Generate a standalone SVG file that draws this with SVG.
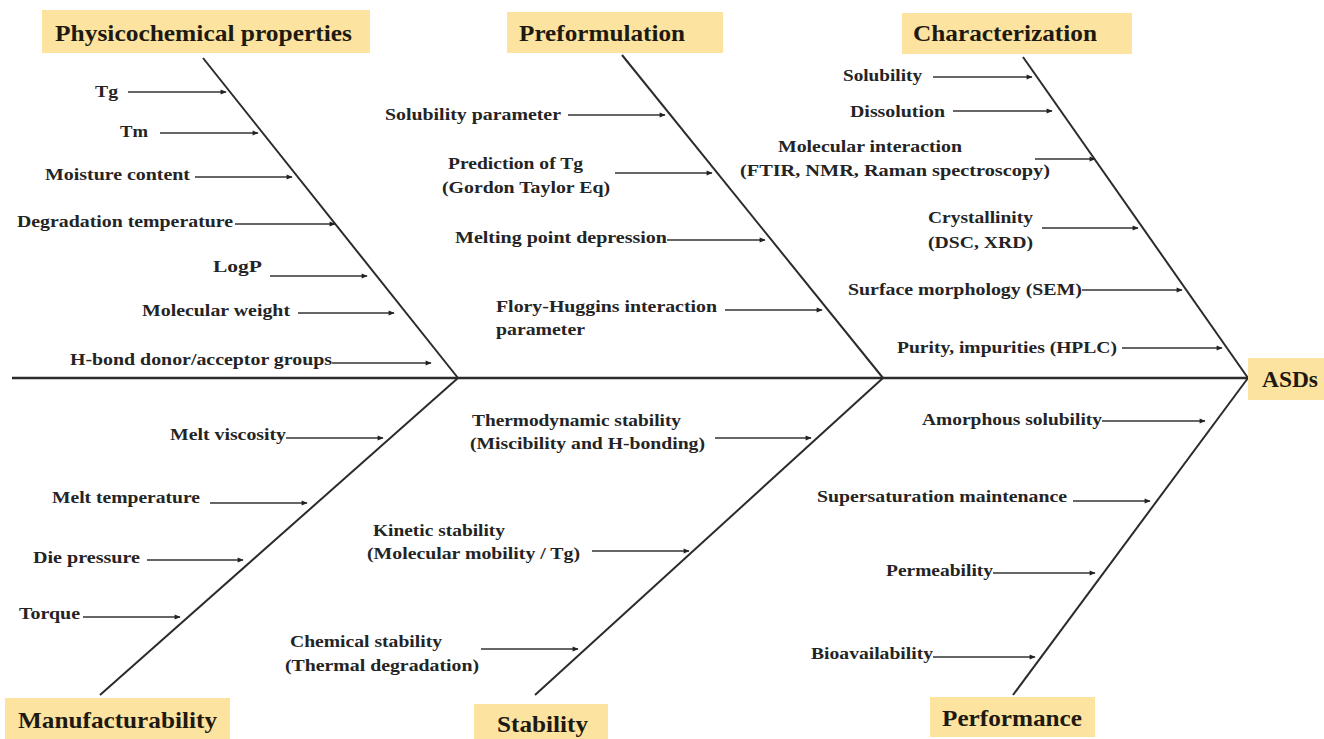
<svg xmlns="http://www.w3.org/2000/svg" width="1324" height="739" viewBox="0 0 1324 739">
<style>
.bg{fill:#ffffff}
.hdr{fill:#FCE4A0}
.ht{font-family:"Liberation Serif","Times New Roman",serif;font-weight:bold;font-size:23.5px;fill:#1e1a12}
.t{font-family:"Liberation Serif","Times New Roman",serif;font-weight:bold;font-size:17.5px;fill:#242424}
.bone{stroke:#2b2b2b;stroke-width:2;fill:none}
.spine{stroke:#2b2b2b;stroke-width:2.6;fill:none}
.arr{stroke:#333;stroke-width:1.3;fill:none;marker-end:url(#ah)}
</style>
<defs>
<marker id="ah" viewBox="0 0 10 10" refX="9" refY="5" markerWidth="7" markerHeight="6" markerUnits="userSpaceOnUse" orient="auto">
<path d="M0,1 L10,5 L0,9 Z" fill="#222"/>
</marker>
</defs>
<rect class="bg" x="0" y="0" width="1324" height="739"/>

<g id="connectors">
<line class="spine" x1="12" y1="378" x2="1247" y2="378"/>
<line class="bone" x1="203" y1="58" x2="458" y2="378"/>
<line class="bone" x1="458" y1="378" x2="100" y2="695"/>
<line class="bone" x1="622" y1="55" x2="883" y2="378"/>
<line class="bone" x1="883" y1="378" x2="535" y2="695"/>
<line class="bone" x1="1023" y1="57" x2="1248" y2="378"/>
<line class="bone" x1="1248" y1="378" x2="1013" y2="695"/>
<!-- physicochemical -->
<line class="arr" x1="128" y1="92" x2="226" y2="92"/>
<line class="arr" x1="160" y1="133" x2="258" y2="133"/>
<line class="arr" x1="195" y1="177" x2="292" y2="177"/>
<line class="arr" x1="235" y1="224" x2="335" y2="224"/>
<line class="arr" x1="270" y1="276" x2="367" y2="276"/>
<line class="arr" x1="298" y1="313" x2="394" y2="313"/>
<line class="arr" x1="332" y1="363" x2="431" y2="363"/>
<!-- preformulation -->
<line class="arr" x1="568" y1="115" x2="665" y2="115"/>
<line class="arr" x1="615" y1="173" x2="712" y2="173"/>
<line class="arr" x1="667" y1="240" x2="765" y2="240"/>
<line class="arr" x1="725" y1="310" x2="822" y2="310"/>
<!-- characterization -->
<line class="arr" x1="933" y1="77" x2="1032" y2="77"/>
<line class="arr" x1="953" y1="111" x2="1052" y2="111"/>
<line class="arr" x1="1035" y1="159" x2="1095" y2="159"/>
<line class="arr" x1="1042" y1="228" x2="1138" y2="228"/>
<line class="arr" x1="1082" y1="290" x2="1182" y2="290"/>
<line class="arr" x1="1122" y1="348" x2="1222" y2="348"/>
<!-- manufacturability -->
<line class="arr" x1="286" y1="438" x2="383" y2="438"/>
<line class="arr" x1="210" y1="503" x2="307" y2="503"/>
<line class="arr" x1="147" y1="560" x2="243" y2="560"/>
<line class="arr" x1="83" y1="617" x2="180" y2="617"/>
<!-- stability -->
<line class="arr" x1="715" y1="438" x2="811" y2="438"/>
<line class="arr" x1="592" y1="551" x2="689" y2="551"/>
<line class="arr" x1="481" y1="649" x2="578" y2="649"/>
<!-- performance -->
<line class="arr" x1="1102" y1="421" x2="1205" y2="421"/>
<line class="arr" x1="1073" y1="501" x2="1150" y2="501"/>
<line class="arr" x1="993" y1="573" x2="1095" y2="573"/>
<line class="arr" x1="933" y1="657" x2="1035" y2="657"/>
</g>

<g id="physicochemical">
<rect class="hdr" x="42" y="10" width="328" height="43"/>
<text class="ht" x="55" y="41" textLength="297" lengthAdjust="spacingAndGlyphs">Physicochemical properties</text>
<g id="pc-items">
<text class="t" x="95" y="97" textLength="23" lengthAdjust="spacingAndGlyphs">Tg</text>
<text class="t" x="120" y="137" textLength="28" lengthAdjust="spacingAndGlyphs">Tm</text>
<text class="t" x="45" y="180" textLength="145" lengthAdjust="spacingAndGlyphs">Moisture content</text>
<text class="t" x="17" y="227" textLength="216" lengthAdjust="spacingAndGlyphs">Degradation temperature</text>
<text class="t" x="213" y="272" textLength="49" lengthAdjust="spacingAndGlyphs">LogP</text>
<text class="t" x="142" y="316" textLength="148" lengthAdjust="spacingAndGlyphs">Molecular weight</text>
<text class="t" x="70" y="365" textLength="262" lengthAdjust="spacingAndGlyphs">H-bond donor/acceptor groups</text>
</g>
</g>

<g id="preformulation">
<rect class="hdr" x="507" y="12" width="216" height="41"/>
<text class="ht" x="519" y="41" textLength="166" lengthAdjust="spacingAndGlyphs">Preformulation</text>
<g id="pf-items">
<text class="t" x="385" y="120" textLength="176" lengthAdjust="spacingAndGlyphs">Solubility parameter</text>
<text class="t" x="448" y="169" textLength="135" lengthAdjust="spacingAndGlyphs">Prediction of Tg</text>
<text class="t" x="442" y="193" textLength="168" lengthAdjust="spacingAndGlyphs">(Gordon Taylor Eq)</text>
<text class="t" x="455" y="243" textLength="212" lengthAdjust="spacingAndGlyphs">Melting point depression</text>
<text class="t" x="496" y="312" textLength="221" lengthAdjust="spacingAndGlyphs">Flory-Huggins interaction</text>
<text class="t" x="496" y="335" textLength="89" lengthAdjust="spacingAndGlyphs">parameter</text>
</g>
</g>

<g id="characterization">
<rect class="hdr" x="902" y="13" width="230" height="41"/>
<text class="ht" x="913" y="41" textLength="184" lengthAdjust="spacingAndGlyphs">Characterization</text>
<g id="ch-items">
<text class="t" x="843" y="81" textLength="79" lengthAdjust="spacingAndGlyphs">Solubility</text>
<text class="t" x="850" y="117" textLength="95" lengthAdjust="spacingAndGlyphs">Dissolution</text>
<text class="t" x="778" y="152" textLength="184" lengthAdjust="spacingAndGlyphs">Molecular interaction</text>
<text class="t" x="740" y="176" textLength="310" lengthAdjust="spacingAndGlyphs">(FTIR, NMR, Raman spectroscopy)</text>
<text class="t" x="928" y="223" textLength="105" lengthAdjust="spacingAndGlyphs">Crystallinity</text>
<text class="t" x="928" y="248" textLength="105" lengthAdjust="spacingAndGlyphs">(DSC, XRD)</text>
<text class="t" x="848" y="295" textLength="234" lengthAdjust="spacingAndGlyphs">Surface morphology (SEM)</text>
<text class="t" x="897" y="353" textLength="220" lengthAdjust="spacingAndGlyphs">Purity, impurities (HPLC)</text>
</g>
</g>

<g id="asds">
<rect class="hdr" x="1248" y="358" width="76" height="42"/>
<text class="ht" x="1262" y="387" textLength="56" lengthAdjust="spacingAndGlyphs">ASDs</text>
</g>

<g id="manufacturability">
<rect class="hdr" x="5" y="698" width="225" height="41"/>
<text class="ht" x="18" y="728" textLength="199" lengthAdjust="spacingAndGlyphs">Manufacturability</text>
<g id="mf-items">
<text class="t" x="170" y="440" textLength="116" lengthAdjust="spacingAndGlyphs">Melt viscosity</text>
<text class="t" x="52" y="503" textLength="148" lengthAdjust="spacingAndGlyphs">Melt temperature</text>
<text class="t" x="33" y="563" textLength="107" lengthAdjust="spacingAndGlyphs">Die pressure</text>
<text class="t" x="19" y="619" textLength="61" lengthAdjust="spacingAndGlyphs">Torque</text>
</g>
</g>

<g id="stability">
<rect class="hdr" x="474" y="704" width="134" height="35"/>
<text class="ht" x="497" y="732" textLength="91" lengthAdjust="spacingAndGlyphs">Stability</text>
<g id="st-items">
<text class="t" x="472" y="426" textLength="209" lengthAdjust="spacingAndGlyphs">Thermodynamic stability</text>
<text class="t" x="470" y="449" textLength="235" lengthAdjust="spacingAndGlyphs">(Miscibility and H-bonding)</text>
<text class="t" x="373" y="536" textLength="132" lengthAdjust="spacingAndGlyphs">Kinetic stability</text>
<text class="t" x="367" y="559" textLength="213" lengthAdjust="spacingAndGlyphs">(Molecular mobility / Tg)</text>
<text class="t" x="290" y="647" textLength="152" lengthAdjust="spacingAndGlyphs">Chemical stability</text>
<text class="t" x="285" y="671" textLength="194" lengthAdjust="spacingAndGlyphs">(Thermal degradation)</text>
</g>
</g>

<g id="performance">
<rect class="hdr" x="930" y="697" width="165" height="40"/>
<text class="ht" x="942" y="726" textLength="140" lengthAdjust="spacingAndGlyphs">Performance</text>
<g id="pe-items">
<text class="t" x="922" y="425" textLength="180" lengthAdjust="spacingAndGlyphs">Amorphous solubility</text>
<text class="t" x="817" y="502" textLength="250" lengthAdjust="spacingAndGlyphs">Supersaturation maintenance</text>
<text class="t" x="886" y="576" textLength="107" lengthAdjust="spacingAndGlyphs">Permeability</text>
<text class="t" x="811" y="659" textLength="122" lengthAdjust="spacingAndGlyphs">Bioavailability</text>
</g>
</g>
</svg>
